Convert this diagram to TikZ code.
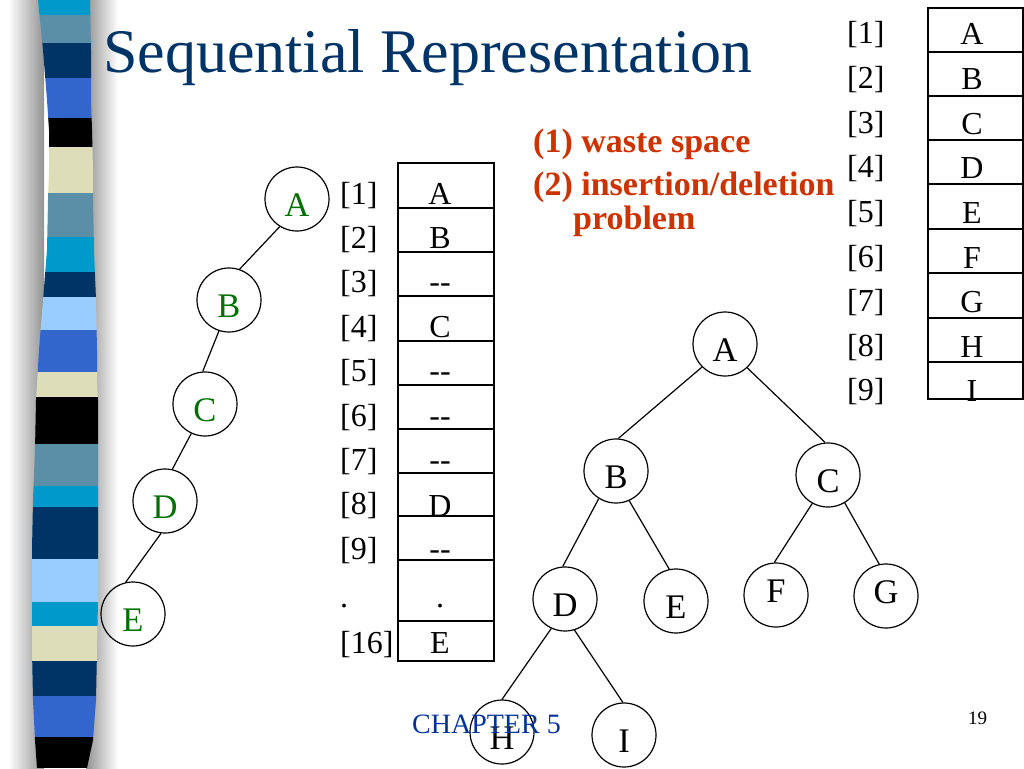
\documentclass[tikz,border=0pt]{standalone}
\usepackage{fontspec}
\setmainfont{Liberation Serif}
\definecolor{ttl}{RGB}{0,51,102}
\definecolor{org}{RGB}{204,51,0}
\definecolor{grn}{RGB}{0,112,0}
\definecolor{chp}{RGB}{0,51,153}
\definecolor{scyan}{HTML}{0099CC}
\definecolor{ssteel}{HTML}{5B8FA8}
\definecolor{snavy}{HTML}{003366}
\definecolor{sroyal}{HTML}{3366CC}
\definecolor{sblack}{HTML}{000000}
\definecolor{sbeige}{HTML}{DDDDB9}
\definecolor{slight}{HTML}{99CCFF}
\begin{document}
\begin{tikzpicture}[x=1pt,y=-1pt,
  tn/.style={circle,draw,line width=1.2pt,minimum size=64pt,inner sep=0pt,
    text height=35pt,text depth=0pt,font=\fontsize{34.5}{40}\selectfont},
  tnup/.style={text height=23pt,text depth=9pt},
  lt/.style={tn,text=grn},
  edge/.style={line width=1.2pt},
  lbl/.style={anchor=base west,inner sep=0pt,font=\fontsize{32}{38}\selectfont},
  val/.style={anchor=base,inner sep=0pt,font=\fontsize{32}{38}\selectfont},
  tbl/.style={line width=1.3pt},
  orng/.style={anchor=base west,inner sep=0pt,text=org,font=\fontsize{34}{40}\selectfont\bfseries}]
\useasboundingbox (0,0) rectangle (1024,768);
\fill[white] (0,0) rectangle (1024,768);
% shadow of the stripe
\shade[left color=white,right color=gray!85] (8,0) rectangle (44,768);
\shade[left color=gray!85,right color=white] (86,0) rectangle (118,768);
% stripe
\begin{scope}
\clip (38,0) -- (43,50) -- (47,100) -- (49,130) -- (49,170) -- (48,200) -- (47,250)
  -- (43,300) -- (39,350) -- (37,384) -- (36,400) -- (35,450) -- (33,500) -- (32,550)
  -- (32,600) -- (32,650) -- (33,700) -- (35,740) -- (37,768)
  -- (87,768) -- (93,740) -- (96,700) -- (97,650) -- (98,600) -- (98,550) -- (98,500)
  -- (98,450) -- (98,400) -- (97,384) -- (97,350) -- (96,300) -- (94,250) -- (93,200)
  -- (93,170) -- (92,130) -- (91,100) -- (91,50) -- (90,0) -- cycle;
\foreach \a/\b/\c in {0/15/scyan,15/43/ssteel,43/78/snavy,78/118/sroyal,118/147/sblack,
  147/193/sbeige,193/237/ssteel,237/272/scyan,272/297/snavy,297/330/slight,330/372/sroyal,
  372/397/sbeige,397/444/sblack,444/486/ssteel,486/507/scyan,507/559/snavy,559/602/slight,
  602/626/scyan,626/661/sbeige,661/696/snavy,696/737/sroyal,737/768/sblack}
  \fill[\c] (20,\a) rectangle (110,\b);
\end{scope}
% title
\node[anchor=base west,inner sep=0pt,text=ttl,font=\fontsize{62}{70}\selectfont] (title) at (103,72) {Sequential Representation};
% orange notes
\node[orng] (o1) at (533,152) {(1) waste space};
\node[orng] (o2) at (533,195) {(2) insertion/deletion};
\node[orng] (o3) at (573,229) {problem};
% left tree
\node[lt] (lA) at (297,199) {A};
\node[lt] (lB) at (229,300) {B};
\node[lt] (lC) at (205,404) {C};
\node[lt] (lD) at (165,501) {D};
\node[lt] (lE) at (133,614) {E};
\draw[edge] (lA.238) -- (lB.71);
\draw[edge] (lB.252) -- (lC.94);
\draw[edge] (lC.245) -- (lD.77);
\draw[edge] (lD.263) -- (lE.103);
% left array
\draw[tbl] (398,163) rectangle (494,661);
\foreach \yy in {208,252,296,341,385,429,473,516,560,621}
  \draw[tbl] (398,\yy) -- (494,\yy);
\node[lbl] (k1) at (340,204) {[1]};
\node[lbl] (k2) at (340,248.4) {[2]};
\node[lbl] (k3) at (340,292.8) {[3]};
\node[lbl] (k4) at (340,337.2) {[4]};
\node[lbl] (k5) at (340,381.6) {[5]};
\node[lbl] (k6) at (340,426) {[6]};
\node[lbl] (k7) at (340,470.4) {[7]};
\node[lbl] (k8) at (340,514.8) {[8]};
\node[lbl] (k9) at (340,559.2) {[9]};
\node[lbl] (kd) at (340,607) {.};
\node[lbl] (k16) at (340,653) {[16]};
\node[val] (v1) at (440,204) {A};
\node[val] (v2) at (440,248.4) {B};
\node[val] (v3) at (440,292.8) {-\kern0pt-};
\node[val] (v4) at (440,337.2) {C};
\node[val] (v5) at (440,381.6) {-\kern0pt-};
\node[val] (v6) at (440,426) {-\kern0pt-};
\node[val] (v7) at (440,470.4) {-\kern0pt-};
\node[val] (v8) at (440,516) {D};
\node[val] (v9) at (440,559.2) {-\kern0pt-};
\node[val] (vd) at (440,607) {.};
\node[val] (v16) at (440,653) {E};
% top-right array
\draw[tbl] (928,8) rectangle (1023,399);
\foreach \yy in {52,96,140,184,229,273,318,362}
  \draw[tbl] (928,\yy) -- (1023,\yy);
\foreach \i/\v in {1/A,2/B,3/C,4/D,5/E,6/F,7/G,8/H,9/I}{
  \node[lbl] (r\i) at (847,{44+(\i-1)*44.6}) {[\i]};
  \node[val] (w\i) at (972,{45+(\i-1)*44.6}) {\v};
}
% right tree
\node[tn] (A) at (725,344) {A};
\node[tn] (B) at (616,471) {B};
\node[tn] (C) at (828,475) {C};
\node[tn] (D) at (565,599) {D};
\node[tn] (E) at (676,601) {E};
\node[tn,tnup] (F) at (776,595) {F};
\node[tn,tnup] (G) at (886,596) {G};
\node[tn] (H) at (502,732) {H};
\node[tn] (I) at (624,735) {I};
\draw[edge] (A.225) -- (B.86);
\draw[edge] (A.313) -- (C.95);
\draw[edge] (B.238) -- (D.94);
\draw[edge] (B.294) -- (E.102);
\draw[edge] (C.241) -- (F.93);
\draw[edge] (C.301) -- (G.102);
\draw[edge] (D.245) -- (H.90);
\draw[edge] (D.287) -- (I.92);
% footer
\node[anchor=base west,inner sep=0pt,text=chp,font=\fontsize{28}{32}\selectfont] (chap) at (412,733) {CHAPTER 5};
\node[anchor=base west,inner sep=0pt,font=\fontsize{19}{22}\selectfont] (pg) at (968,724) {19};
\end{tikzpicture}
\end{document}
